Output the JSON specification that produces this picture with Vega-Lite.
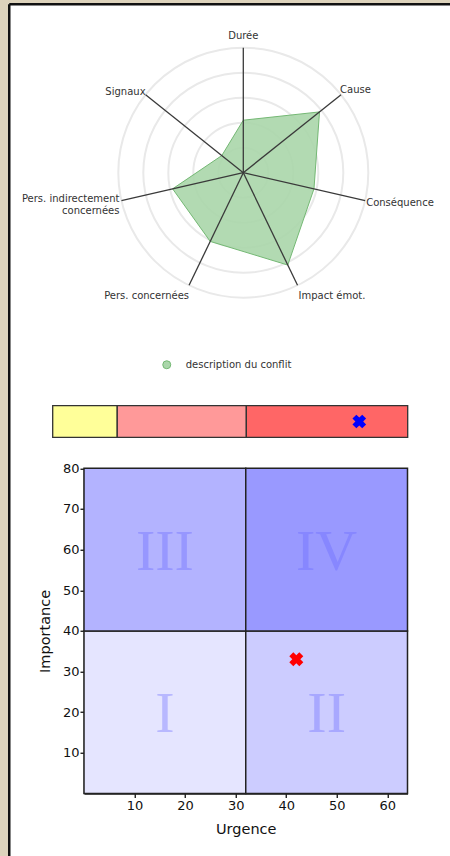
{
  "$schema": "https://vega.github.io/schema/vega-lite/v6.json",
  "width": 441.25,
  "height": 852.25,
  "autosize": {"type": "none"},
  "padding": {"left": 8.75, "top": 3.75, "right": 0, "bottom": 0},
  "background": "#ddd3bc",
  "config": {
    "view": {"fill": "#ffffff", "stroke": null},
    "font": "DejaVu Sans",
    "axis": {"labelFont": "DejaVu Sans", "titleFont": "DejaVu Sans", "labelColor": "#111111", "titleColor": "#111111", "titleFontWeight": "normal", "grid": false}
  },
  "datasets": {
    "axes": [
      {"axe": "Durée", "k": 0, "v": 42, "serie": "description du conflit"},
      {"axe": "Cause", "k": 1, "v": 78, "serie": "description du conflit"},
      {"axe": "Conséquence", "k": 2, "v": 58, "serie": "description du conflit"},
      {"axe": "Impact émot.", "k": 3, "v": 82, "serie": "description du conflit"},
      {"axe": "Pers. concernées", "k": 4, "v": 61, "serie": "description du conflit"},
      {"axe": "Pers. indirectement\nconcernées", "k": 5, "v": 58, "serie": "description du conflit"},
      {"axe": "Signaux", "k": 6, "v": 22, "serie": "description du conflit"}
    ],
    "rings": [{"r": 20}, {"r": 40}, {"r": 60}, {"r": 80}, {"r": 100}],
    "segments": [
      {"niveau": "faible", "de": 0, "a": 2},
      {"niveau": "moyen", "de": 2, "a": 6},
      {"niveau": "fort", "de": 6, "a": 11}
    ],
    "score": [{"score": 9.5}],
    "quadrants": [
      {"q": "I", "u0": 0, "u1": 32, "i0": 0, "i1": 40},
      {"q": "II", "u0": 32, "u1": 64, "i0": 0, "i1": 40},
      {"q": "III", "u0": 0, "u1": 32, "i0": 40, "i1": 80},
      {"q": "IV", "u0": 32, "u1": 64, "i0": 40, "i1": 80}
    ],
    "conflit": [{"urgence": 42, "importance": 33}]
  },
  "resolve": {"scale": {"x": "independent", "y": "independent"}},
  "layer": [
    {
      "layer": [
        {
          "data": {"name": "rings"},
          "transform": [{"calculate": "0", "as": "o"}],
          "mark": {"type": "point", "shape": "circle", "filled": false, "stroke": "#e9e9e9", "strokeWidth": 2, "opacity": 1},
          "encoding": {
            "x": {"field": "o", "type": "quantitative", "scale": {"domain": [-100, 100], "range": [109.55, 359.55], "nice": false, "zero": false}, "axis": null},
            "y": {"field": "o", "type": "quantitative", "scale": {"domain": [-100, 100], "range": [293.95, 43.95], "nice": false, "zero": false}, "axis": null},
            "size": {"field": "r", "type": "quantitative", "scale": {"type": "pow", "exponent": 2, "domain": [0, 100], "range": [0, 62500]}, "legend": null}
          }
        },
        {
          "data": {"name": "axes"},
          "transform": [
            {"calculate": "datum.v * sin(datum.k * 2 * PI / 7)", "as": "px"},
            {"calculate": "datum.v * cos(datum.k * 2 * PI / 7)", "as": "py"}
          ],
          "mark": {"type": "line", "interpolate": "linear-closed", "fill": "#aad6aa", "fillOpacity": 0.9, "strokeWidth": 1},
          "encoding": {
            "x": {"field": "px", "type": "quantitative", "axis": null},
            "y": {"field": "py", "type": "quantitative", "axis": null},
            "order": {"field": "k", "type": "quantitative"},
            "color": {
              "field": "serie", "type": "nominal",
              "scale": {"range": ["#74b874"]},
              "legend": {"orient": "none", "legendX": 153, "legendY": 356, "title": null, "padding": 0,
                "symbolType": "circle", "symbolSize": 64, "symbolFillColor": "#b9e0b9", "symbolStrokeColor": "#6fb46f", "symbolStrokeWidth": 1,
                "labelFont": "DejaVu Sans", "labelFontSize": 10, "labelColor": "#333333", "labelOffset": 14}
            }
          }
        },
        {
          "data": {"name": "axes"},
          "transform": [
            {"calculate": "0", "as": "o"},
            {"calculate": "100 * sin(datum.k * 2 * PI / 7)", "as": "ex"},
            {"calculate": "100 * cos(datum.k * 2 * PI / 7)", "as": "ey"}
          ],
          "mark": {"type": "rule", "color": "#3a3a3a", "strokeWidth": 1.3},
          "encoding": {
            "x": {"field": "o", "type": "quantitative", "axis": null},
            "y": {"field": "o", "type": "quantitative", "axis": null},
            "x2": {"field": "ex"},
            "y2": {"field": "ey"}
          }
        },
        {
          "data": {"name": "axes"},
          "transform": [
            {"filter": "datum.k == 0"},
            {"calculate": "100 * sin(datum.k * 2 * PI / 7)", "as": "ex"},
            {"calculate": "100 * cos(datum.k * 2 * PI / 7)", "as": "ey"}
          ],
          "mark": {"type": "text", "align": "center", "baseline": "middle", "dx": 0, "dy": -12, "fontSize": 10, "color": "#333333"},
          "encoding": {
            "x": {"field": "ex", "type": "quantitative", "axis": null},
            "y": {"field": "ey", "type": "quantitative", "axis": null},
            "text": {"field": "axe"}
          }
        },
        {
          "data": {"name": "axes"},
          "transform": [
            {"filter": "datum.k == 1"},
            {"calculate": "100 * sin(datum.k * 2 * PI / 7)", "as": "ex"},
            {"calculate": "100 * cos(datum.k * 2 * PI / 7)", "as": "ey"}
          ],
          "mark": {"type": "text", "align": "left", "baseline": "middle", "dx": -1, "dy": -5, "fontSize": 10, "color": "#333333"},
          "encoding": {
            "x": {"field": "ex", "type": "quantitative", "axis": null},
            "y": {"field": "ey", "type": "quantitative", "axis": null},
            "text": {"field": "axe"}
          }
        },
        {
          "data": {"name": "axes"},
          "transform": [
            {"filter": "datum.k == 2"},
            {"calculate": "100 * sin(datum.k * 2 * PI / 7)", "as": "ex"},
            {"calculate": "100 * cos(datum.k * 2 * PI / 7)", "as": "ey"}
          ],
          "mark": {"type": "text", "align": "left", "baseline": "middle", "dx": 1, "dy": 2.5, "fontSize": 10, "color": "#333333"},
          "encoding": {
            "x": {"field": "ex", "type": "quantitative", "axis": null},
            "y": {"field": "ey", "type": "quantitative", "axis": null},
            "text": {"field": "axe"}
          }
        },
        {
          "data": {"name": "axes"},
          "transform": [
            {"filter": "datum.k == 3"},
            {"calculate": "100 * sin(datum.k * 2 * PI / 7)", "as": "ex"},
            {"calculate": "100 * cos(datum.k * 2 * PI / 7)", "as": "ey"}
          ],
          "mark": {"type": "text", "align": "left", "baseline": "middle", "dx": 1, "dy": 11, "fontSize": 10, "color": "#333333"},
          "encoding": {
            "x": {"field": "ex", "type": "quantitative", "axis": null},
            "y": {"field": "ey", "type": "quantitative", "axis": null},
            "text": {"field": "axe"}
          }
        },
        {
          "data": {"name": "axes"},
          "transform": [
            {"filter": "datum.k == 4"},
            {"calculate": "100 * sin(datum.k * 2 * PI / 7)", "as": "ex"},
            {"calculate": "100 * cos(datum.k * 2 * PI / 7)", "as": "ey"}
          ],
          "mark": {"type": "text", "align": "right", "baseline": "middle", "dx": 0, "dy": 10.5, "fontSize": 10, "color": "#333333"},
          "encoding": {
            "x": {"field": "ex", "type": "quantitative", "axis": null},
            "y": {"field": "ey", "type": "quantitative", "axis": null},
            "text": {"field": "axe"}
          }
        },
        {
          "data": {"name": "axes"},
          "transform": [
            {"filter": "datum.k == 5"},
            {"calculate": "100 * sin(datum.k * 2 * PI / 7)", "as": "ex"},
            {"calculate": "100 * cos(datum.k * 2 * PI / 7)", "as": "ey"}
          ],
          "mark": {"type": "text", "align": "right", "baseline": "middle", "dx": -2, "dy": -2, "fontSize": 10, "lineHeight": 12.5, "lineBreak": "\n", "color": "#333333"},
          "encoding": {
            "x": {"field": "ex", "type": "quantitative", "axis": null},
            "y": {"field": "ey", "type": "quantitative", "axis": null},
            "text": {"field": "axe"}
          }
        },
        {
          "data": {"name": "axes"},
          "transform": [
            {"filter": "datum.k == 6"},
            {"calculate": "100 * sin(datum.k * 2 * PI / 7)", "as": "ex"},
            {"calculate": "100 * cos(datum.k * 2 * PI / 7)", "as": "ey"}
          ],
          "mark": {"type": "text", "align": "right", "baseline": "middle", "dx": 0, "dy": -3, "fontSize": 10, "color": "#333333"},
          "encoding": {
            "x": {"field": "ex", "type": "quantitative", "axis": null},
            "y": {"field": "ey", "type": "quantitative", "axis": null},
            "text": {"field": "axe"}
          }
        }
      ]
    },
    {
      "layer": [
        {
          "data": {"name": "segments"},
          "transform": [{"calculate": "0", "as": "bas"}, {"calculate": "1", "as": "haut"}],
          "mark": {"type": "rect", "stroke": "#333333", "strokeWidth": 1.3},
          "encoding": {
            "x": {"field": "de", "type": "quantitative", "scale": {"domain": [-1.3618, 12.3107], "nice": false, "zero": false},
              "axis": {"orient": "top", "domain": true, "domainColor": "#111111", "domainWidth": 2.5, "ticks": false, "labels": false, "title": null, "grid": false}},
            "x2": {"field": "a"},
            "y": {"field": "bas", "type": "quantitative", "scale": {"domain": [-13.25, 13.7199], "nice": false, "zero": false},
              "axis": {"orient": "left", "domain": true, "domainColor": "#111111", "domainWidth": 2.5, "ticks": false, "labels": false, "title": null, "grid": false}},
            "y2": {"field": "haut"},
            "fill": {"field": "niveau", "type": "nominal", "scale": {"domain": ["faible", "moyen", "fort", "I", "II", "III", "IV"], "range": ["#ffff99", "#ff9999", "#ff6666", "#e5e5ff", "#ccccff", "#b3b3ff", "#9999ff"]}, "legend": null}
          }
        },
        {
          "data": {"name": "score"},
          "transform": [{"calculate": "0.5", "as": "milieu"}],
          "mark": {"type": "point", "shape": "cross", "angle": 45, "filled": true, "color": "#0000ff", "size": 190, "opacity": 1},
          "encoding": {
            "x": {"field": "score", "type": "quantitative"},
            "y": {"field": "milieu", "type": "quantitative"}
          }
        }
      ]
    },
    {
      "layer": [
        {
          "data": {"name": "quadrants"},
          "mark": {"type": "rect", "stroke": "#222222", "strokeWidth": 1.5},
          "encoding": {
            "x": {"field": "u0", "type": "quantitative", "scale": {"domain": [0, 64], "range": [75.25, 398.75], "nice": false, "zero": false},
              "axis": {"orient": "bottom", "offset": -62.5, "values": [10, 20, 30, 40, 50, 60], "title": "Urgence", "tickSize": 4, "tickColor": "#111111", "tickWidth": 1.3, "domainColor": "#222222", "domainWidth": 1.5, "labelFontSize": 13, "titleFontSize": 14.5, "titlePadding": 10, "labelPadding": 2}},
            "x2": {"field": "u1"},
            "y": {"field": "i0", "type": "quantitative", "scale": {"domain": [0, 80], "range": [789.75, 464.55], "nice": false, "zero": false},
              "axis": {"orient": "left", "offset": -75.25, "values": [10, 20, 30, 40, 50, 60, 70, 80], "title": "Importance", "tickSize": 4, "tickColor": "#111111", "tickWidth": 1.3, "domainColor": "#222222", "domainWidth": 1.5, "labelFontSize": 13, "titleFontSize": 14.5, "titlePadding": 10, "labelPadding": 1}},
            "y2": {"field": "i1"},
            "fill": {"field": "q", "type": "nominal", "scale": {"domain": ["faible", "moyen", "fort", "I", "II", "III", "IV"], "range": ["#ffff99", "#ff9999", "#ff6666", "#e5e5ff", "#ccccff", "#b3b3ff", "#9999ff"]}, "legend": null}
          }
        },
        {
          "data": {"name": "quadrants"},
          "transform": [
            {"calculate": "(datum.u0 + datum.u1) / 2", "as": "cu"},
            {"calculate": "(datum.i0 + datum.i1) / 2", "as": "ci"}
          ],
          "mark": {"type": "text", "font": "Liberation Serif", "fontSize": 58, "color": "#6666ff", "opacity": 0.35, "align": "center", "baseline": "middle", "dy": 3},
          "encoding": {
            "x": {"field": "cu", "type": "quantitative"},
            "y": {"field": "ci", "type": "quantitative"},
            "text": {"field": "q"}
          }
        },
        {
          "data": {"name": "conflit"},
          "mark": {"type": "point", "shape": "cross", "angle": 45, "filled": true, "color": "#ff0000", "size": 200, "opacity": 1},
          "encoding": {
            "x": {"field": "urgence", "type": "quantitative"},
            "y": {"field": "importance", "type": "quantitative"}
          }
        }
      ]
    }
  ]
}
